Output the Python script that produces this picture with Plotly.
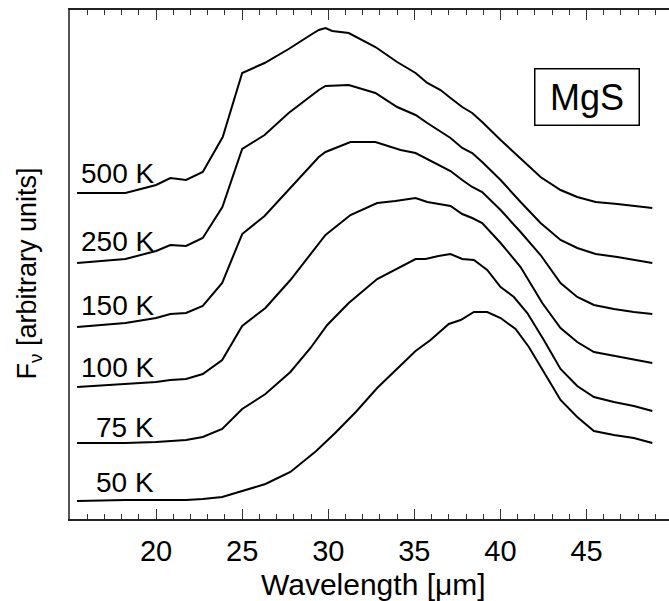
import plotly.graph_objects as go

# ---- data (wavelength in micron, flux in arbitrary units) ----
wl_500 = [15.41, 18.22, 20.0, 20.83, 21.74, 22.71, 23.87, 25.0, 26.3, 27.7, 28.97, 29.45, 29.84, 30.23, 31.19,
          32.74, 34.0, 35.07, 35.75, 36.52, 37.1, 37.78, 38.36, 38.94, 40.01, 41.17, 42.33, 43.49, 44.46,
          45.53, 46.79, 48.82]
fx_500 = [3.26, 3.26, 3.34, 3.41, 3.39, 3.47, 3.82, 4.46, 4.56, 4.70, 4.84, 4.89, 4.91, 4.88, 4.86,
          4.72, 4.57, 4.46, 4.36, 4.29, 4.21, 4.12, 4.06, 3.97, 3.79, 3.61, 3.42, 3.29, 3.22,
          3.17, 3.15, 3.11]

wl_250 = [15.41, 18.22, 20.0, 20.83, 21.74, 22.71, 23.85, 25.0, 26.3, 27.7, 29.45, 29.84, 31.19, 32.74,
          34.0, 35.07, 35.75, 37.1, 37.78, 38.36, 38.94, 40.01, 41.17, 42.33, 43.49, 44.46, 45.53,
          46.79, 48.82]
fx_250 = [2.56, 2.60, 2.68, 2.74, 2.73, 2.81, 3.12, 3.70, 3.84, 4.06, 4.29, 4.33, 4.34, 4.26,
          4.12, 4.04, 3.96, 3.81, 3.71, 3.66, 3.57, 3.39, 3.17, 2.96, 2.79, 2.71, 2.65,
          2.62, 2.56]

wl_150 = [15.41, 18.22, 20.0, 20.83, 21.74, 22.71, 23.84, 25.0, 26.3, 29.45, 29.84, 31.29, 32.74, 34.2,
          35.07, 35.84, 37.1, 37.78, 38.36, 38.94, 40.01, 41.17, 42.33, 43.49, 44.46, 45.43, 46.59,
          47.75, 48.82]
fx_150 = [1.92, 1.96, 2.01, 2.05, 2.06, 2.13, 2.36, 2.85, 3.03, 3.62, 3.67, 3.77, 3.77, 3.69,
          3.66, 3.59, 3.48, 3.39, 3.32, 3.27, 3.09, 2.87, 2.64, 2.36, 2.22, 2.14, 2.10,
          2.07, 2.05]

wl_100 = [15.41, 18.22, 20.0, 20.83, 21.74, 22.71, 23.84, 25.0, 26.35, 27.8, 29.84, 31.29, 32.84, 33.9,
          35.07, 35.75, 37.1, 37.78, 38.36, 38.94, 40.01, 41.17, 42.43, 43.49, 44.46, 45.43, 46.59,
          47.75, 48.82]
fx_100 = [1.32, 1.35, 1.37, 1.39, 1.40, 1.45, 1.59, 1.93, 2.11, 2.39, 2.84, 3.04, 3.16, 3.18,
          3.21, 3.17, 3.13, 3.05, 3.01, 2.96, 2.76, 2.52, 2.16, 1.91, 1.77, 1.67, 1.63,
          1.59, 1.56]

wl_75 = [15.41, 18.22, 20.0, 21.74, 22.71, 23.84, 25.0, 26.35, 27.8, 28.97, 29.94, 31.19, 32.84, 35.07,
         35.65, 36.4, 37.1, 37.78, 38.46, 39.23, 40.01, 40.78, 41.56, 42.52, 43.49, 44.46, 45.43,
         46.59, 47.75, 48.82]
fx_75 = [0.76, 0.76, 0.77, 0.79, 0.82, 0.90, 1.10, 1.25, 1.47, 1.71, 1.94, 2.16, 2.40, 2.60,
         2.60, 2.63, 2.65, 2.60, 2.59, 2.49, 2.32, 2.22, 2.06, 1.79, 1.50, 1.33, 1.22,
         1.17, 1.13, 1.08]

wl_50 = [15.41, 18.22, 21.74, 22.71, 23.84, 25.0, 26.35, 27.8, 29.3, 30.4, 31.6, 32.84, 34.0, 35.07,
         35.94, 37.0, 37.69, 38.46, 39.23, 40.01, 40.88, 41.65, 42.52, 43.49, 44.46, 45.43, 46.59,
         47.75, 48.82]
fx_50 = [0.18, 0.19, 0.19, 0.20, 0.22, 0.28, 0.35, 0.47, 0.68, 0.86, 1.07, 1.31, 1.50, 1.68,
         1.79, 1.95, 1.99, 2.07, 2.07, 2.01, 1.90, 1.72, 1.47, 1.19, 1.02, 0.88, 0.84,
         0.81, 0.76]

curve_labels = ["500 K", "250 K", "150 K", "100 K", "75 K", "50 K"]
label_y = [3.46, 2.78, 2.14, 1.52, 0.92, 0.37]
series = [(wl_500, fx_500), (wl_250, fx_250), (wl_150, fx_150),
          (wl_100, fx_100), (wl_75, fx_75), (wl_50, fx_50)]

x_tickvals = [20, 25, 30, 35, 40, 45]
x_ticktext = ["20", "25", "30", "35", "40", "45"]
x_range = [15, 49.79]
y_range = [0, 5.09]

FONT = "Liberation Sans, Arial, Helvetica, sans-serif"

fig = go.Figure()
for (wl, fx), name in zip(series, curve_labels):
    fig.add_trace(go.Scatter(x=wl, y=fx, mode="lines", name=name,
                             line=dict(color="black", width=2), showlegend=False,
                             hoverinfo="skip"))

annotations = []
for name, ly in zip(curve_labels, label_y):
    annotations.append(dict(x=20.0, y=ly, xref="x", yref="y", text=name, showarrow=False,
                            xanchor="right", yanchor="middle",
                            font=dict(family=FONT, size=28, color="black")))

annotations.append(dict(x=0.863, y=0.83, xref="paper", yref="paper", text="MgS", showarrow=False,
                        xanchor="center", yanchor="middle", width=101, height=53,
                        bordercolor="black", borderwidth=1.5, borderpad=1,
                        font=dict(family=FONT, size=36, color="black")))

annotations.append(dict(x=0.506, y=-0.128, xref="paper", yref="paper", text="Wavelength [μm]",
                        showarrow=False, xanchor="center", yanchor="middle",
                        font=dict(family=FONT, size=30, color="black")))
annotations.append(dict(x=-0.068, y=0.483, xref="paper", yref="paper",
                        text="F<sub>ν</sub> [arbitrary units]", textangle=-90,
                        showarrow=False, xanchor="center", yanchor="middle",
                        font=dict(family=FONT, size=27, color="black")))

fig.update_layout(
    width=669, height=601,
    margin=dict(l=70, r=0, t=10, b=82),
    paper_bgcolor="white", plot_bgcolor="white",
    annotations=annotations,
    xaxis=dict(range=x_range, showgrid=False, zeroline=False,
               showline=True, linecolor="#222", linewidth=1.5, mirror="ticks",
               ticks="inside", ticklen=10, tickwidth=1.2, tickcolor="#333",
               tickvals=x_tickvals, ticktext=x_ticktext,
               tickfont=dict(family=FONT, size=29, color="black"),
               ticklabelstandoff=5,
               minor=dict(dtick=1, tick0=15, ticks="inside", ticklen=5, tickwidth=1, tickcolor="#333",
                          showgrid=False)),
    yaxis=dict(range=y_range, showgrid=False, zeroline=False,
               showline=True, linecolor="#555", linewidth=1.5, mirror=False,
               ticks="", showticklabels=False),
)

fig.write_html("out.html")
